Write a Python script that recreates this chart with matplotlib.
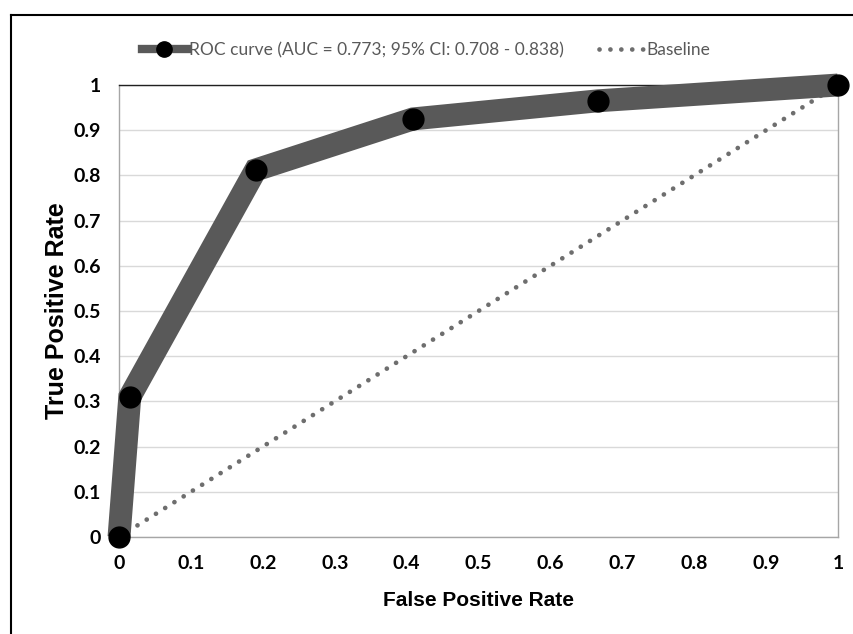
import matplotlib.pyplot as plt
from matplotlib.lines import Line2D

# ROC-punkter lest av bildet
fpr = [0, 0.015, 0.19, 0.409, 0.666, 1]
tpr = [0, 0.31, 0.812, 0.925, 0.965, 1]
baseline_x = [0, 1]
baseline_y = [0, 1]
ticks = [0, 0.1, 0.2, 0.3, 0.4, 0.5, 0.6, 0.7, 0.8, 0.9, 1]
tick_labels = ['0', '0.1', '0.2', '0.3', '0.4', '0.5', '0.6', '0.7', '0.8', '0.9', '1']
roc_label = 'ROC curve (AUC = 0.773; 95% CI: 0.708 - 0.838)'
base_label = 'Baseline'

fig = plt.figure(figsize=(8.54, 6.34), dpi=100)
ax = fig.add_axes([119 / 854, 1 - 537 / 634, 719 / 854, 452 / 634])

# grid bak alt
ax.set_axisbelow(True)
ax.yaxis.grid(True, color='#d9d9d9', linewidth=1)

ax.plot(baseline_x, baseline_y, color='#6e6e6e', linewidth=3.4,
        linestyle=(0, (0.01, 2.3)), dash_capstyle='round', zorder=2)
ax.plot(fpr, tpr, color='#595959', linewidth=16.5, solid_capstyle='butt',
        solid_joinstyle='miter', marker='o', markersize=15,
        markerfacecolor='black', markeredgecolor='black', clip_on=False, zorder=3)

ax.set_xlim(0, 1)
ax.set_ylim(0, 1)
ax.set_xticks(ticks)
ax.set_yticks(ticks)
ax.set_xticklabels(tick_labels, fontfamily='Lato', fontweight='bold', fontsize=14)
ax.set_yticklabels(tick_labels, fontfamily='Lato', fontweight='bold', fontsize=14)
ax.tick_params(axis='y', length=0, pad=13)
ax.tick_params(axis='x', length=0, pad=13)

for side in ['left', 'bottom', 'right']:
    ax.spines[side].set_color('#a6a6a6')
    ax.spines[side].set_linewidth(1)
ax.spines['top'].set_color('#202020')
ax.spines['top'].set_linewidth(1)

ax.set_xlabel('False Positive Rate', fontfamily='Liberation Sans', fontweight='bold',
              fontsize=15, labelpad=14)
ax.set_ylabel('True Positive Rate', fontfamily='Liberation Sans', fontweight='bold',
              fontsize=18, labelpad=3)

# legende med egne symboler (mindre enn i plottet)
handles = [
    Line2D([], [], color='#595959', linewidth=6, marker='o', markersize=11,
           markerfacecolor='black', markeredgecolor='black'),
    Line2D([], [], color='#6e6e6e', linewidth=3.4, linestyle=(0, (0.01, 2.3)),
           dash_capstyle='round'),
]
leg = fig.legend(handles, [roc_label, base_label], loc='center',
                 bbox_to_anchor=(426 / 854, 1 - 50 / 634), ncol=2, frameon=False,
                 prop={'family': 'Lato', 'size': 12.5}, handlelength=2.6,
                 handletextpad=0.15, columnspacing=2.0)
for t in leg.get_texts():
    t.set_color('#595959')

# ytre ramme (venstre og topp)
fig.add_artist(Line2D([11 / 854, 11 / 854], [0, 1 - 15 / 634], color='black',
                      linewidth=1.5, transform=fig.transFigure))
fig.add_artist(Line2D([11 / 854, 1], [1 - 15 / 634, 1 - 15 / 634], color='black',
                      linewidth=1.5, transform=fig.transFigure))

fig.savefig('out.png', dpi=100)
